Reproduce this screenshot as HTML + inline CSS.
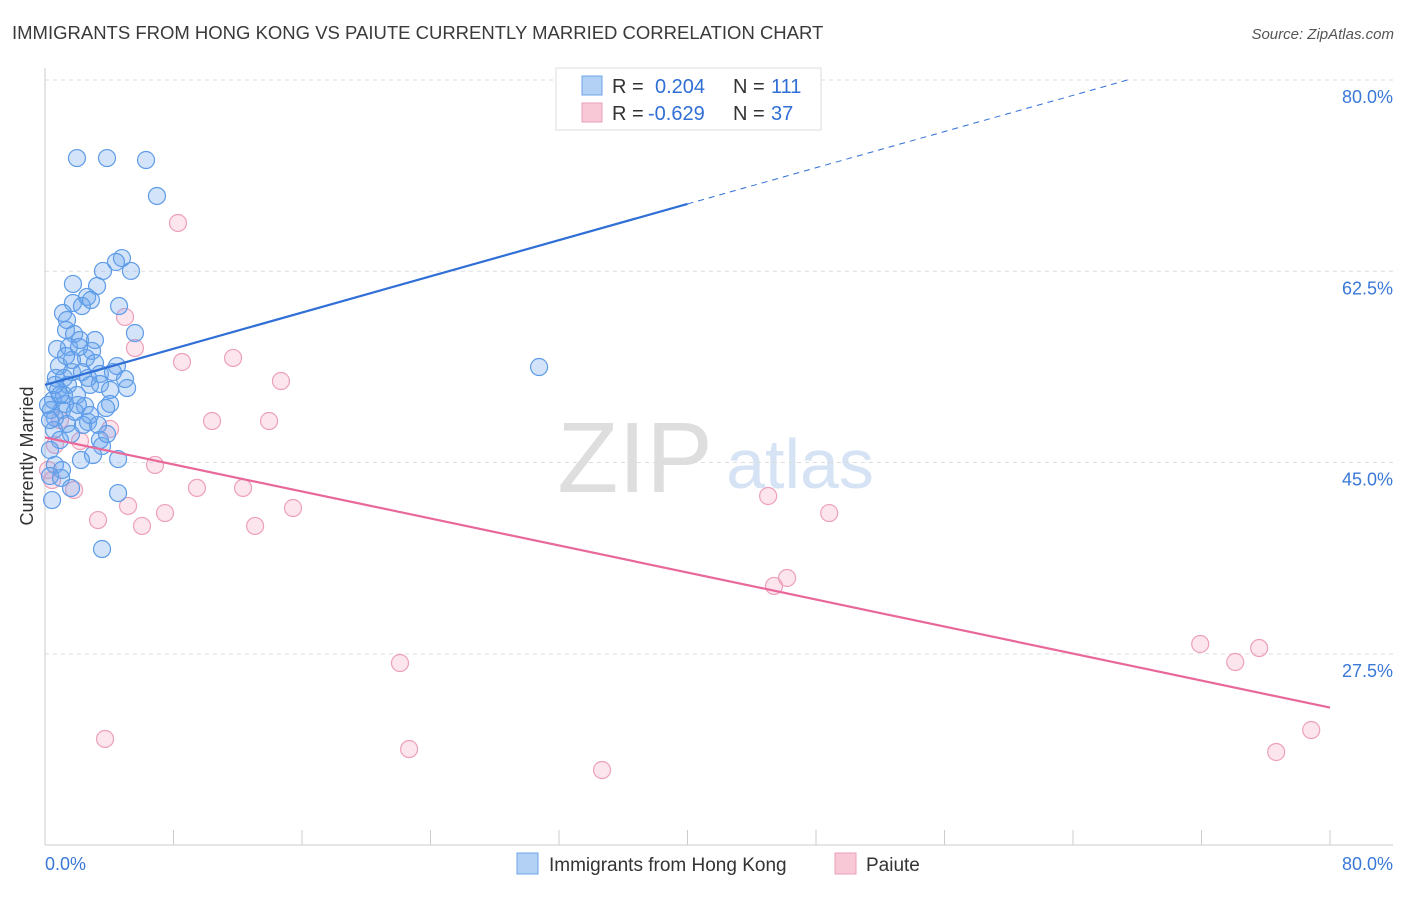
<!DOCTYPE html>
<html><head><meta charset="utf-8"><style>
body{margin:0;background:#fff;font-family:"Liberation Sans",sans-serif}
svg text{font-family:"Liberation Sans",sans-serif}
</style></head><body>
<svg id="chart" width="1406" height="892" viewBox="0 0 1406 892" xmlns="http://www.w3.org/2000/svg">
<text x="12" y="39" font-size="18.5" fill="#3a3a3a">IMMIGRANTS FROM HONG KONG VS PAIUTE CURRENTLY MARRIED CORRELATION CHART</text>
<text x="1394" y="39" font-size="15" fill="#555" text-anchor="end" font-style="italic">Source: ZipAtlas.com</text>
<g>
<text x="635" y="492" font-size="100" fill="#dedede" text-anchor="middle" font-family="Liberation Serif">ZIP</text>
<text x="800" y="488" font-size="70" fill="#d5e3f5" text-anchor="middle">atlas</text>
</g>
<g id="grid"></g>
<g id="axes"></g>
<g id="points"></g>
<g id="lines"></g>
<text transform="translate(33,456) rotate(-90)" font-size="18" fill="#333" text-anchor="middle">Currently Married</text>
<g>
<rect x="556" y="68" width="265" height="62" fill="#fff" stroke="#ddd"/>
<rect x="582" y="76" width="20" height="19" fill="#b3d0f5" stroke="#6da4e8"/>
<rect x="582" y="103" width="20" height="19" fill="#f9c8d7" stroke="#eb9fba"/>
<text x="612" y="93" font-size="20" fill="#333">R =</text>
<text x="655" y="93" font-size="20" fill="#2f6fd6">0.204</text>
<text x="733" y="93" font-size="20" fill="#333">N =</text>
<text x="771" y="93" font-size="20" fill="#2f6fd6">111</text>
<text x="612" y="120" font-size="20" fill="#333">R =</text>
<text x="648" y="120" font-size="20" fill="#2f6fd6">-0.629</text>
<text x="733" y="120" font-size="20" fill="#333">N =</text>
<text x="771" y="120" font-size="20" fill="#2f6fd6">37</text>
</g>
<g>
<rect x="517" y="853" width="21" height="21" fill="#b3d0f5" stroke="#6da4e8"/>
<text x="549" y="871" font-size="19" fill="#333">Immigrants from Hong Kong</text>
<rect x="835" y="853" width="21" height="21" fill="#f9c8d7" stroke="#eb9fba"/>
<text x="866" y="871" font-size="19" fill="#333">Paiute</text>
</g>
</svg>
<script>
const xTicks=[0,8,16,24,32,40,48,56,64,72,80];
const yTicks=[80,62.5,45,27.5];
const blueX=[1.99,3.86,6.29,6.97,4.79,4.42,5.35,3.61,1.74,3.24,2.62,1.74,2.30,4.61,2.86,1.12,1.37,1.31,1.81,5.60,2.18,3.11,0.75,1.49,2.93,2.55,4.48,3.11,0.87,1.68,2.30,3.42,0.68,1.18,4.98,1.43,2.80,5.11,3.42,0.81,1.99,0.50,1.25,2.49,4.05,0.37,1.06,2.05,3.80,0.62,2.68,3.30,1.37,0.56,1.62,3.42,3.55,2.99,2.24,4.55,0.62,1.06,0.31,0.44,1.00,1.62,4.55,3.55,30.76,3.86,0.93,0.31,1.18,1.87,2.37,2.80,1.68,0.93,0.31,0.19,4.05,1.31,4.23,2.68,2.12,0.62];
const blueY=[72.86,72.86,72.68,69.39,63.71,63.35,62.53,62.53,61.34,61.15,60.15,59.60,59.32,59.32,59.87,58.68,58.04,57.13,56.76,56.85,56.21,56.21,55.39,55.57,55.21,54.57,53.83,54.11,53.83,53.28,53.28,53.10,52.74,52.74,52.64,52.10,52.10,51.82,52.19,51.64,51.18,50.73,50.36,50.17,50.36,49.81,49.81,50.27,49.99,49.08,48.71,48.44,48.53,47.98,47.61,47.06,46.51,45.69,45.23,45.32,44.78,44.32,43.77,41.57,43.59,42.67,42.21,37.09,53.74,47.61,47.06,46.15,51.18,49.63,48.44,49.35,54.38,51.18,48.89,50.27,51.64,54.75,53.28,52.74,55.57,52.10];
const pinkX=[8.28,4.98,5.60,8.53,11.71,14.69,10.40,13.95,4.05,2.18,6.85,9.46,12.33,5.17,3.30,6.04,7.47,13.08,15.44,22.10,22.67,34.68,3.74,45.02,48.82,45.39,46.20,71.92,74.10,75.59,76.65,78.83,1.81,0.44,0.62,0.93,0.19];
const pinkY=[66.92,58.32,55.48,54.20,54.57,52.46,48.80,48.80,48.07,46.97,44.78,42.68,42.68,41.03,39.74,39.20,40.38,39.20,40.84,26.66,18.79,16.87,19.71,41.94,40.38,33.71,34.44,28.40,26.75,28.03,18.52,20.53,42.49,43.40,46.61,48.89,44.32];
const blueTrend=[52.1,0.414];
const pinkTrend=[47.3,-0.309];
const NS="http://www.w3.org/2000/svg";
const X=v=>45+v*(1285/80);
const Y=v=>80+(80-v)*10.93;
function mk(tag,attrs,parent){const e=document.createElementNS(NS,tag);for(const k in attrs)e.setAttribute(k,attrs[k]);document.getElementById(parent).appendChild(e);return e;}
yTicks.forEach(t=>{
 const l=mk('line',{x1:45,x2:1393,y1:Y(t),y2:Y(t),stroke:'#ddd','stroke-dasharray':'4,4'},'grid');
 
 
 const tx=mk('text',{x:1393,y:Y(t)+23,'font-size':18,fill:'#3a78d8','text-anchor':'end'},'axes');
 tx.textContent=t.toFixed(1)+'%';
 
 
});
mk('line',{x1:45,x2:45,y1:68,y2:845,stroke:'#ccc'},'axes');
mk('line',{x1:45,x2:1393,y1:845,y2:845,stroke:'#ccc'},'axes');
xTicks.forEach(t=>{
 const l=mk('line',{x1:X(t),x2:X(t),y1:830,y2:845,stroke:'#ccc'},'axes');
 
 
});
const x0=mk('text',{x:45,y:870,'font-size':18,fill:'#3a78d8'},'axes');x0.textContent='0.0%';


const x1=mk('text',{x:1393,y:870,'font-size':18,fill:'#3a78d8','text-anchor':'end'},'axes');x1.textContent='80.0%';


pinkX.forEach((v,i)=>{
 const c=mk('circle',{cx:X(v),cy:Y(pinkY[i]),r:8.5,fill:'rgba(244,170,196,0.3)',stroke:'#eda0bb','stroke-width':1.2},'points');
 
 
});
blueX.forEach((v,i)=>{
 const c=mk('circle',{cx:X(v),cy:Y(blueY[i]),r:8.5,fill:'rgba(110,165,240,0.3)',stroke:'#5e9ce8','stroke-width':1.2},'points');
 
 
});
const bl=mk('line',{x1:X(0),y1:Y(blueTrend[0]),x2:X(40),y2:Y(blueTrend[0]+40*blueTrend[1]),stroke:'#2f6fd6','stroke-width':2.2},'lines');


const xe=(80-blueTrend[0])/blueTrend[1];
const bd=mk('line',{x1:X(40),y1:Y(blueTrend[0]+40*blueTrend[1]),x2:X(xe),y2:Y(80),stroke:'#2f6fd6','stroke-width':1,'stroke-dasharray':'6,5'},'lines');


const pl=mk('line',{x1:X(0),y1:Y(pinkTrend[0]),x2:X(80),y2:Y(pinkTrend[0]+80*pinkTrend[1]),stroke:'#e8689a','stroke-width':2.2},'lines');


</script>
</body></html>
